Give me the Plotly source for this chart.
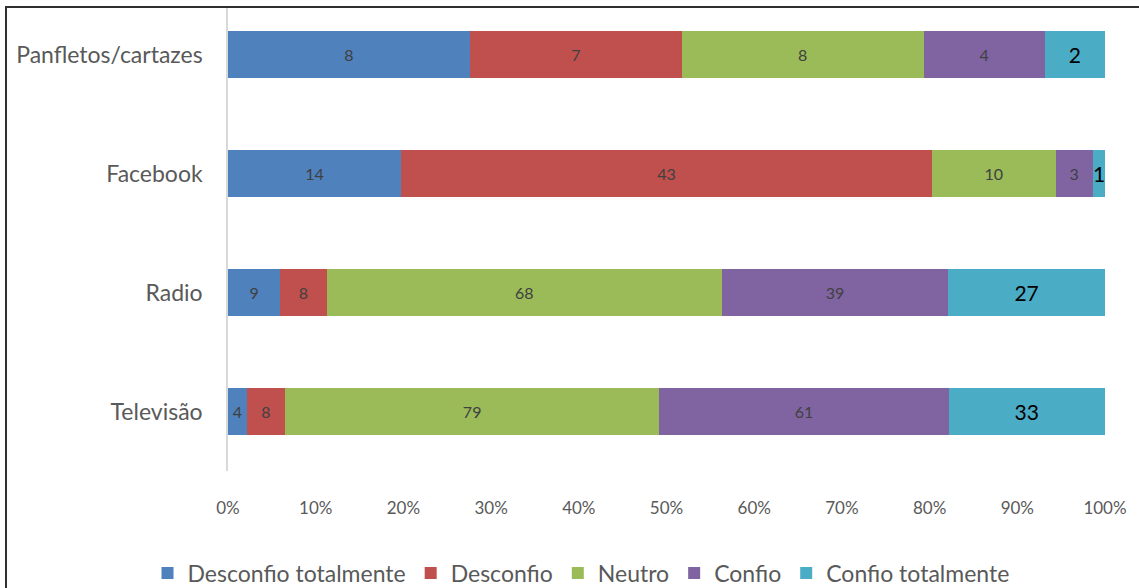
import plotly.graph_objects as go

categories = ["Televisão", "Radio", "Facebook", "Panfletos/cartazes"]
series_names = ["Desconfio totalmente", "Desconfio", "Neutro", "Confio", "Confio totalmente"]
desconfio_totalmente = [4, 9, 14, 8]
desconfio = [8, 8, 43, 7]
neutro = [79, 68, 10, 8]
confio = [61, 39, 3, 4]
confio_totalmente = [33, 27, 1, 2]
colors = ["#4F81BD", "#C0504D", "#9BBB59", "#8064A2", "#4BACC6"]
x_ticks = list(range(0, 101, 10))

series = [desconfio_totalmente, desconfio, neutro, confio, confio_totalmente]
totals = [sum(s[i] for s in series) for i in range(len(categories))]

FONT = "Lato, 'Open Sans', sans-serif"
W, H = 1139, 588
L, R, T, B = 228, 34, 8, 117
pw, ph = W - L - R, H - T - B

fig = go.Figure()
for k, (name, vals, col) in enumerate(zip(series_names, series, colors)):
    pct = [v / t * 100 for v, t in zip(vals, totals)]
    last = k == len(series) - 1
    texts = []
    for v, p in zip(vals, pct):
        texts.append("" if (last and p < 2) else str(v))
    fig.add_trace(go.Bar(
        y=categories, x=pct, name=name, orientation="h",
        marker=dict(color=col, line=dict(width=0)),
        text=texts, textposition="inside", insidetextanchor="middle",
        textangle=0,
        textfont=dict(family=FONT, size=21 if last else 16,
                      color="#000000" if last else "#404040"),
        width=0.395, hoverinfo="skip",
    ))

# labels for segments too narrow for inside text
for i, cat in enumerate(categories):
    p = confio_totalmente[i] / totals[i] * 100
    if p < 2:
        fig.add_annotation(x=100 - p / 2, y=cat, text=str(confio_totalmente[i]),
                           showarrow=False, xanchor="center", yanchor="middle",
                           font=dict(family=FONT, size=21, color="#000000"))

# outer frame
fig.add_shape(type="rect", xref="paper", yref="paper",
              x0=(6 - L) / pw, x1=(W + 10 - L) / pw,
              y0=(T + ph - (H + 10)) / ph, y1=(T + ph - 7) / ph,
              line=dict(color="#303030", width=2), fillcolor="rgba(0,0,0,0)", layer="above")

fig.update_layout(
    width=W, height=H, barmode="stack",
    margin=dict(l=L, r=R, t=T, b=B, pad=0, autoexpand=False),
    paper_bgcolor="white", plot_bgcolor="white",
    font=dict(family=FONT, color="#595959"),
    bargap=0.6,
    xaxis=dict(range=[0, 100], tickvals=x_ticks, ticktext=[f"{v}%" for v in x_ticks],
               showgrid=False, zeroline=False, showline=False, ticks="",
               tickfont=dict(family=FONT, size=17, color="#595959"),
               ticklabelstandoff=25, fixedrange=True),
    yaxis=dict(range=[-0.5, -0.5 + ph / 119], showgrid=False, zeroline=False,
               showline=True, linecolor="#D9D9D9", linewidth=1.5, ticks="",
               tickfont=dict(family=FONT, size=23, color="#595959"),
               ticklabelstandoff=19),
    legend=dict(orientation="h", x=(581 - L) / pw, xanchor="center",
                y=(T + ph - 573) / ph, yanchor="middle",
                font=dict(family=FONT, size=23, color="#595959"),
                traceorder="normal", itemwidth=30, bgcolor="rgba(0,0,0,0)"),
    showlegend=True,
)

fig.write_html("out.html", config={"displayModeBar": False},
               post_script="document.body.style.margin='0';document.body.style.overflow='hidden';")
